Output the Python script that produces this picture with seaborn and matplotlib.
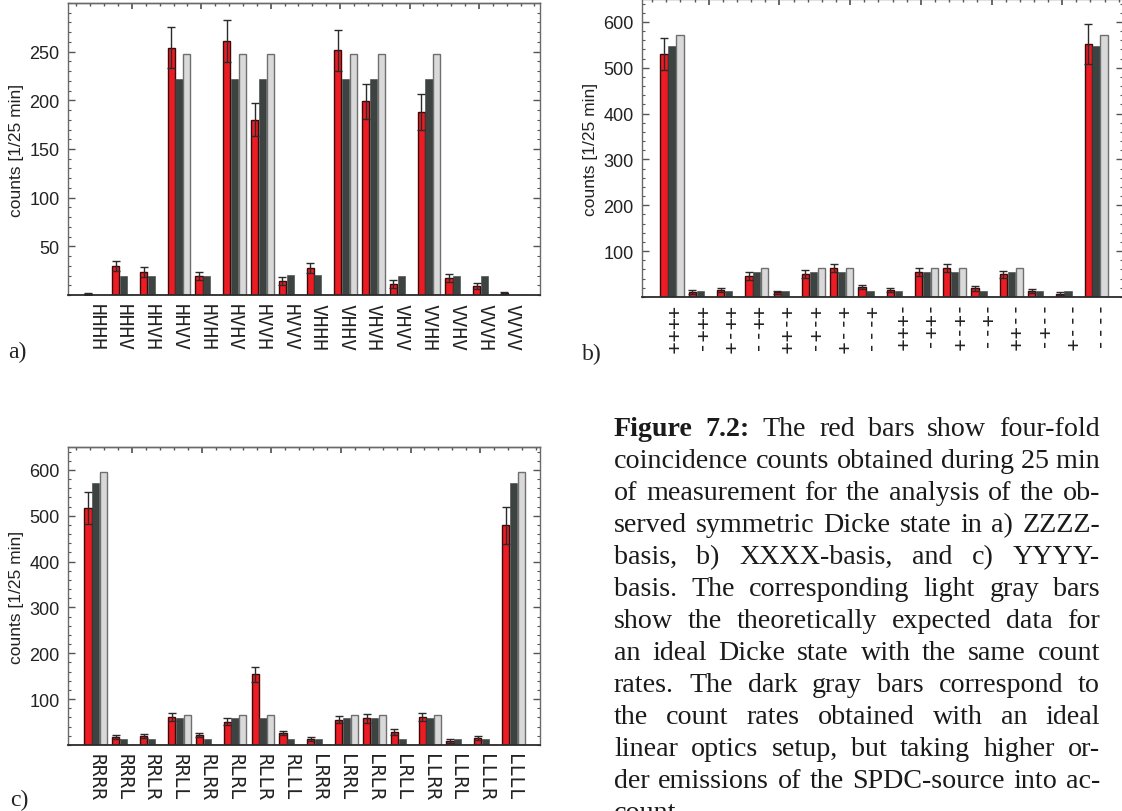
import matplotlib
matplotlib.use("Agg")
import matplotlib.pyplot as plt
from matplotlib.ticker import MultipleLocator
import numpy as np
import pandas as pd
import seaborn as sns

# ---------------- data ----------------
states_a = ["HHHH", "HHHV", "HHVH", "HHVV", "HVHH", "HVHV", "HVVH", "HVVV",
            "VHHH", "VHHV", "VHVH", "VHVV", "VVHH", "VVHV", "VVVH", "VVVV"]
red_a = [1, 29.5, 24, 254, 19.5, 261, 180, 14, 28, 251.5, 199, 11, 188, 17.5, 9, 2]
err_a = [1, 5, 5, 21, 4, 22, 17, 4, 5, 21, 18, 4, 18, 4, 3, 1]
dark_a = [0.5, 20, 20, 222, 20, 222, 222, 20.5, 20.5, 222, 222, 20, 222, 20, 20, 0.5]
light_a = [0, 0, 0, 248, 0, 248, 248, 0, 0, 248, 248, 0, 248, 0, 0, 0]

states_b = ["++++", "+++-", "++-+", "++--", "+-++", "+-+-", "+--+", "+---",
            "-+++", "-++-", "-+-+", "-+--", "--++", "--+-", "---+", "----"]
red_b = [530, 10.5, 15, 45.5, 10.5, 50, 63, 22, 15, 54, 63, 19, 50, 13.5, 7, 552]
err_b = [35, 5, 4.5, 8.5, 3, 8.5, 9.5, 5, 4, 9, 9, 5, 7.5, 4, 3, 43]
dark_b = [547, 12, 12, 55.5, 12, 55.5, 55.5, 12, 12, 55.5, 55.5, 12, 55.5, 12, 12, 547]
light_b = [570.5, 0, 0, 63.5, 0, 63.5, 63.5, 0, 0, 63.5, 63.5, 0, 63.5, 0, 0, 570.5]

states_c = ["RRRR", "RRRL", "RRLR", "RRLL", "RLRR", "RLRL", "RLLR", "RLLL",
            "LRRR", "LRRL", "LRLR", "LRLL", "LLRR", "LLRL", "LLLR", "LLLL"]
red_c = [517, 17, 19.5, 61, 21.5, 50.5, 154, 26, 13.5, 55, 58, 28, 61, 8.5, 15, 479.5]
err_c = [34, 4, 4.5, 8.5, 5, 7.5, 16, 5, 4, 7.5, 9, 6, 8.5, 3.5, 4.5, 40]
dark_c = [571, 12.8, 12.8, 58.5, 12.8, 58.5, 58.5, 12.8, 12.8, 58.5, 58.5, 12.8, 58.5, 12.8, 12.8, 571]
light_c = [595, 0, 0, 66, 0, 66, 66, 0, 0, 66, 66, 0, 66, 0, 0, 595]

series_names = ["measured", "linear optics", "ideal Dicke"]
ylabel_text = "counts [1/25 min]"

caption_lines = [
    [("Figure", "bold"), ("7.2:", "bold"), ("The", "normal"), ("red", "normal"), ("bars", "normal"),
     ("show", "normal"), ("four-fold", "normal")],
    "coincidence counts obtained during |25 min",
    "of measurement for the analysis of the ob-",
    "served symmetric Dicke state in a) ZZZZ-",
    "basis, b) XXXX-basis, and c) YYYY-",
    "basis. The corresponding light gray bars",
    "show the theoretically expected data for",
    "an ideal Dicke state with the same count",
    "rates. The dark gray bars correspond to",
    "the count rates obtained with an ideal",
    "linear optics setup, but taking higher or-",
    "der emissions of the SPDC-source into ac-",
    "count.",
]

# ---------------- style ----------------
sns.set_theme(style="ticks")
plt.rcParams["font.family"] = ["Liberation Sans", "DejaVu Sans"]
plt.rcParams["axes.linewidth"] = 1.0

RED = "#ec1c24"
DARK = "#3c4341"
LIGHT = "#d9d9d9"
palette = dict(zip(series_names, [RED, DARK, LIGHT]))
edges = ["#3a0a0a", DARK, "#6f6f6f"]

W, H = 1122, 812
fig = plt.figure(figsize=(W / 100, H / 100), dpi=100)


def px_axes(l, t, r, b):
    return fig.add_axes([l / W, 1 - b / H, (r - l) / W, (b - t) / H])


def panel(ax, states, red, dark, light, err, ylim, majors, minor_step, xlim,
          label_size, top_off):
    n = len(states)
    df = pd.DataFrame({
        "state": states * 3,
        "series": [series_names[0]] * n + [series_names[1]] * n + [series_names[2]] * n,
        "count": list(red) + list(dark) + list(light),
    })
    sns.barplot(data=df, x="state", y="count", hue="series", order=states,
                hue_order=series_names, palette=palette, width=0.84, gap=0.08,
                errorbar=None, legend=False, saturation=1, ax=ax, zorder=2)
    for cont, ec in zip(ax.containers, edges):
        for p in cont:
            p.set_edgecolor(ec)
            p.set_linewidth(1.0 if ec != DARK else 0.4)
    xs = [p.get_x() + p.get_width() / 2 for p in ax.containers[0]]
    ax.errorbar(xs, red, yerr=err, fmt="none", ecolor="#2a2a2a", elinewidth=1.0,
                capsize=3, capthick=1.0, zorder=3)
    ax.set_xlim(*xlim)
    ax.set_ylim(*ylim)
    ax.set_yticks(majors)
    ax.yaxis.set_minor_locator(MultipleLocator(minor_step))
    ax.tick_params(axis="y", which="both", direction="in", left=True, right=True,
                   colors="#555555", labelcolor="#222222", labelsize=13, pad=6)
    ax.tick_params(axis="y", which="major", length=5, width=1)
    ax.tick_params(axis="y", which="minor", length=2.5, width=0.8)
    ax.tick_params(axis="x", which="both", length=0, pad=6)
    ax.set_xticks(range(n))
    ax.set_xticklabels(states, rotation=-90, family="DejaVu Sans Mono",
                       fontsize=label_size, color="#222222", va="top", ha="center")
    ax.set_xlabel("")
    ax.set_ylabel(ylabel_text, fontsize=12.5, color="#222222", labelpad=4)
    for s in ["top", "right", "left"]:
        ax.spines[s].set_color("#6a6a6a")
        ax.spines[s].set_linewidth(1.0)
    ax.spines["bottom"].set_color("#2b2b2b")
    ax.spines["bottom"].set_linewidth(1.3)
    sec = ax.secondary_xaxis("top")
    sec.xaxis.set_major_locator(MultipleLocator(2.5, offset=top_off))
    sec.xaxis.set_minor_locator(MultipleLocator(0.5, offset=top_off % 0.5))
    sec.tick_params(which="both", direction="in", labeltop=False, colors="#555555")
    sec.tick_params(which="major", length=4)
    sec.tick_params(which="minor", length=2)
    sec.spines["top"].set_color("#6a6a6a")


ax_a = px_axes(68, 4, 540, 296)
panel(ax_a, states_a, red_a, dark_a, light_a, err_a, (0, 300),
      [50, 100, 150, 200, 250], 10, (-1, 16), 14, 1.3)

ax_b = px_axes(642, 0, 1123, 298)
panel(ax_b, states_b, red_b, dark_b, light_b, err_b, (0, 650),
      [100, 200, 300, 400, 500, 600], 20, (-1.06, 15.95), 14.5, 1.3)

ax_c = px_axes(68, 448, 540, 746)
panel(ax_c, states_c, red_c, dark_c, light_c, err_c, (0, 650),
      [100, 200, 300, 400, 500, 600], 20, (-1, 15.95), 14, 1.3)

# panel letters
serif = ["Liberation Serif", "DejaVu Serif"]
for txt, x, y in [("a)", 8, 358), ("b)", 582, 360), ("c)", 10, 806)]:
    fig.text(x / W, 1 - y / H, txt, family=serif, fontsize=17, color="#222222",
             va="baseline", ha="left")

# caption, justified
renderer = fig.canvas.get_renderer()
x0, x1 = 614, 1100
base0, step = 436, 32


def tokens_of(line):
    if isinstance(line, list):
        return line
    parts = line.split(" ")
    toks = []
    i = 0
    while i < len(parts):
        p = parts[i]
        if p.startswith("|"):
            toks.append((p[1:] + " " + parts[i + 1], "normal"))
            i += 2
        else:
            toks.append((p, "normal"))
            i += 1
    return toks


def measure(tok, fs):
    t = fig.text(0, 0, tok[0], family=serif, fontsize=fs, weight=tok[1])
    w = t.get_window_extent(renderer).width
    t.remove()
    return w


ref_toks = tokens_of(caption_lines[1])
fs0 = 10
sp0 = measure(("a a", "normal"), fs0) - 2 * measure(("a", "normal"), fs0)
nat = sum(measure(t, fs0) for t in ref_toks) + sp0 * (len(ref_toks) - 1)
fs = fs0 * (x1 - x0) / nat * 0.995

for k, line in enumerate(caption_lines):
    toks = tokens_of(line)
    ypix = base0 + k * step
    texts = [fig.text(0, 1 - ypix / H, w, family=serif, fontsize=fs, weight=wt,
                      color="#1a1a1a", va="baseline", ha="left") for w, wt in toks]
    widths = [t.get_window_extent(renderer).width for t in texts]
    last = k == len(caption_lines) - 1
    if last or len(texts) == 1:
        gap = sp0 * fs / fs0
    else:
        gap = ((x1 - x0) - sum(widths)) / (len(texts) - 1)
    x = x0
    for t, w in zip(texts, widths):
        t.set_x(x / W)
        x += w + gap

fig.savefig("out.png", dpi=100)
